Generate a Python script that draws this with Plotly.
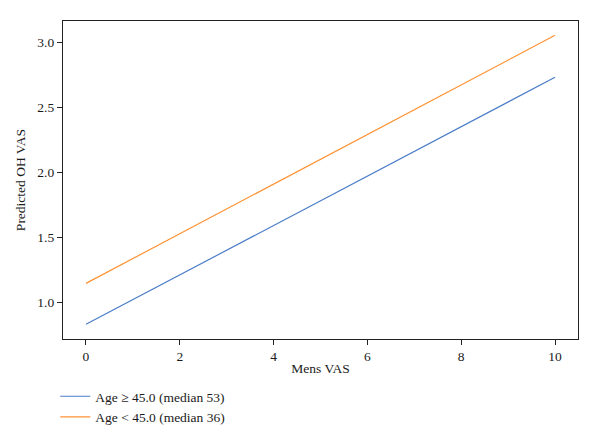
import plotly.graph_objects as go

mens_vas = [0, 10]
pred_old = [0.834, 2.734]
pred_young = [1.149, 3.057]
names = ["Age ≥ 45.0 (median 53)", "Age < 45.0 (median 36)"]
colors = ["#4a7cc7", "#ff9233"]
x_ticks = [0, 2, 4, 6, 8, 10]
y_ticks = [1.0, 1.5, 2.0, 2.5, 3.0]

font = "Liberation Serif"
fsize = 13.5
txt = "#1a1a1a"
fig = go.Figure()
for ys, nm, c in zip([pred_old, pred_young], names, colors):
    fig.add_trace(go.Scatter(x=mens_vas, y=ys, mode="lines", name=nm,
                             line=dict(color=c, width=1.2)))

axis_common = dict(showgrid=False, zeroline=False, showline=True, mirror=True,
                   linecolor="#222", linewidth=1.2, ticks="outside", ticklen=5,
                   tickcolor="#222", automargin=False,
                   tickfont=dict(family=font, size=fsize, color=txt))
fig.update_xaxes(range=[-0.49, 10.49], tickvals=x_ticks,
                 title=dict(text="Mens VAS", font=dict(family=font, size=fsize, color=txt), standoff=0),
                 **axis_common)
fig.update_yaxes(range=[0.721, 3.167], tickvals=y_ticks, tickformat=".1f",
                 title=dict(text="Predicted OH VAS", font=dict(family=font, size=fsize, color=txt), standoff=8),
                 **axis_common)
fig.update_layout(
    width=600, height=440, margin=dict(l=63, r=22, t=21, b=101, autoexpand=False),
    plot_bgcolor="white", paper_bgcolor="white",
    showlegend=True,
    legend=dict(x=-0.015, xanchor="left", y=-0.132, yanchor="top",
                font=dict(family=font, size=fsize, color=txt),
                bgcolor="rgba(0,0,0,0)", itemwidth=30, tracegroupgap=0),
)
fig.write_html("out.html")
